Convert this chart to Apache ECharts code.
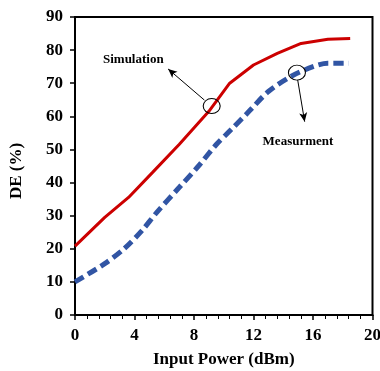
<!DOCTYPE html>
<html>
<head>
<meta charset="utf-8">
<script src="https://cdn.jsdelivr.net/npm/echarts@6/dist/echarts.min.js"></script>
<style>
html,body{margin:0;padding:0;background:#fff;}
#chart{width:380px;height:371px;}
</style>
</head>
<body>
<div id="chart"></div>
<script>
// Data
var simX = [0, 2, 3.6, 5.2, 7, 9, 10.4, 12, 13.6, 15.2, 17, 18.5];
var simY = [20.8, 29.5, 35.5, 43, 51.5, 61.5, 70, 75.5, 79, 82, 83.3, 83.5];
var measX = [0, 2, 3.3, 4.5, 5.5, 7, 8.3, 9.5, 10.5, 11.7, 13, 14.5, 16, 17, 18.4];
var measY = [10, 15.5, 20, 25.5, 31, 38.5, 45, 51.5, 56, 61.5, 67.5, 72, 75, 76, 76];
var xTicks = [0, 4, 8, 12, 16, 20];
var yTicks = [0, 10, 20, 30, 40, 50, 60, 70, 80, 90];
// Annotations (data coordinates)
var simCircle = [9.19, 63.1];
var simArrow = [[8.7, 64.9], [6.26, 74.3]];
var simLabel = [3.92, 77];
var measCircle = [14.92, 73.2];
var measArrow = [[14.97, 71], [15.44, 58.4]];
var measLabel = [14.99, 52.4];

function pairs(xs, ys){ return xs.map(function(x,i){ return [x, ys[i]]; }); }

var font = '"Liberation Serif","Times New Roman",serif';
var chart = echarts.init(document.getElementById('chart'));
chart.setOption({
  animation: false,
  backgroundColor: '#fff',
  grid: {left: 75, right: 7.5, top: 17, bottom: 56, containLabel: false, outerBoundsMode: 'none',
         show: true, borderColor: '#000', borderWidth: 2, backgroundColor: 'transparent'},
  xAxis: {
    type: 'value', min: xTicks[0], max: xTicks[xTicks.length-1], interval: 4,
    name: 'Input Power (dBm)', nameLocation: 'middle', nameGap: 36,
    nameTextStyle: {fontFamily: font, fontWeight: 'bold', fontSize: 17, color: '#000'},
    axisLine: {lineStyle: {color: '#000', width: 2}},
    axisTick: {show: true, inside: false, length: 5, lineStyle: {color: '#000', width: 1.5}},
    minorTick: {show: true, splitNumber: 5, length: 4, lineStyle: {color: '#000', width: 1}},
    splitLine: {show: false},
    axisLabel: {fontFamily: font, fontWeight: 'bold', fontSize: 17, color: '#000', margin: 12}
  },
  yAxis: {
    type: 'value', min: yTicks[0], max: yTicks[yTicks.length-1], interval: 10,
    name: 'DE (%)', nameLocation: 'middle', nameGap: 50, nameRotate: 90,
    nameTextStyle: {fontFamily: font, fontWeight: 'bold', fontSize: 17, color: '#000', padding: [0, 0, 0, -10]},
    axisLine: {lineStyle: {color: '#000', width: 2}},
    axisTick: {show: true, inside: false, length: 5, lineStyle: {color: '#000', width: 1.5}},
    splitLine: {show: false},
    axisLabel: {fontFamily: font, fontWeight: 'bold', fontSize: 17, color: '#000', margin: 12}
  },
  series: [
    {
      name: 'Simulation', type: 'line', data: pairs(simX, simY), showSymbol: false, smooth: false,
      lineStyle: {color: '#CC0000', width: 3}, z: 3,
      markPoint: {
        silent: true,
        data: [
          {coord: simCircle, symbol: 'circle', symbolSize: [17, 15],
           itemStyle: {color: 'rgba(0,0,0,0)', borderColor: '#000', borderWidth: 1}, label: {show: false}},
          {coord: simLabel, symbol: 'rect', symbolSize: 1, itemStyle: {color: 'rgba(0,0,0,0)'},
           label: {show: true, position: 'inside', formatter: 'Simulation', fontFamily: font, fontWeight: 'bold', fontSize: 13, color: '#000'}}
        ]
      },
      markLine: {
        silent: true, symbol: ['none', 'arrow'], symbolSize: [6, 9],
        lineStyle: {color: '#000', width: 1, type: 'solid'}, label: {show: false},
        data: [[{coord: simArrow[0]}, {coord: simArrow[1]}]]
      }
    },
    {
      name: 'Measurment', type: 'line', data: pairs(measX, measY), showSymbol: false, smooth: 0.3,
      lineStyle: {color: '#3155A4', width: 5, type: [10, 5]}, z: 2,
      markPoint: {
        silent: true,
        data: [
          {coord: measCircle, symbol: 'circle', symbolSize: [17, 15],
           itemStyle: {color: 'rgba(0,0,0,0)', borderColor: '#000', borderWidth: 1}, label: {show: false}},
          {coord: measLabel, symbol: 'rect', symbolSize: 1, itemStyle: {color: 'rgba(0,0,0,0)'},
           label: {show: true, position: 'inside', formatter: 'Measurment', fontFamily: font, fontWeight: 'bold', fontSize: 13, color: '#000'}}
        ]
      },
      markLine: {
        silent: true, symbol: ['none', 'arrow'], symbolSize: [6, 9],
        lineStyle: {color: '#000', width: 1, type: 'solid'}, label: {show: false},
        data: [[{coord: measArrow[0]}, {coord: measArrow[1]}]]
      }
    }
  ]
});
</script>
</body>
</html>
